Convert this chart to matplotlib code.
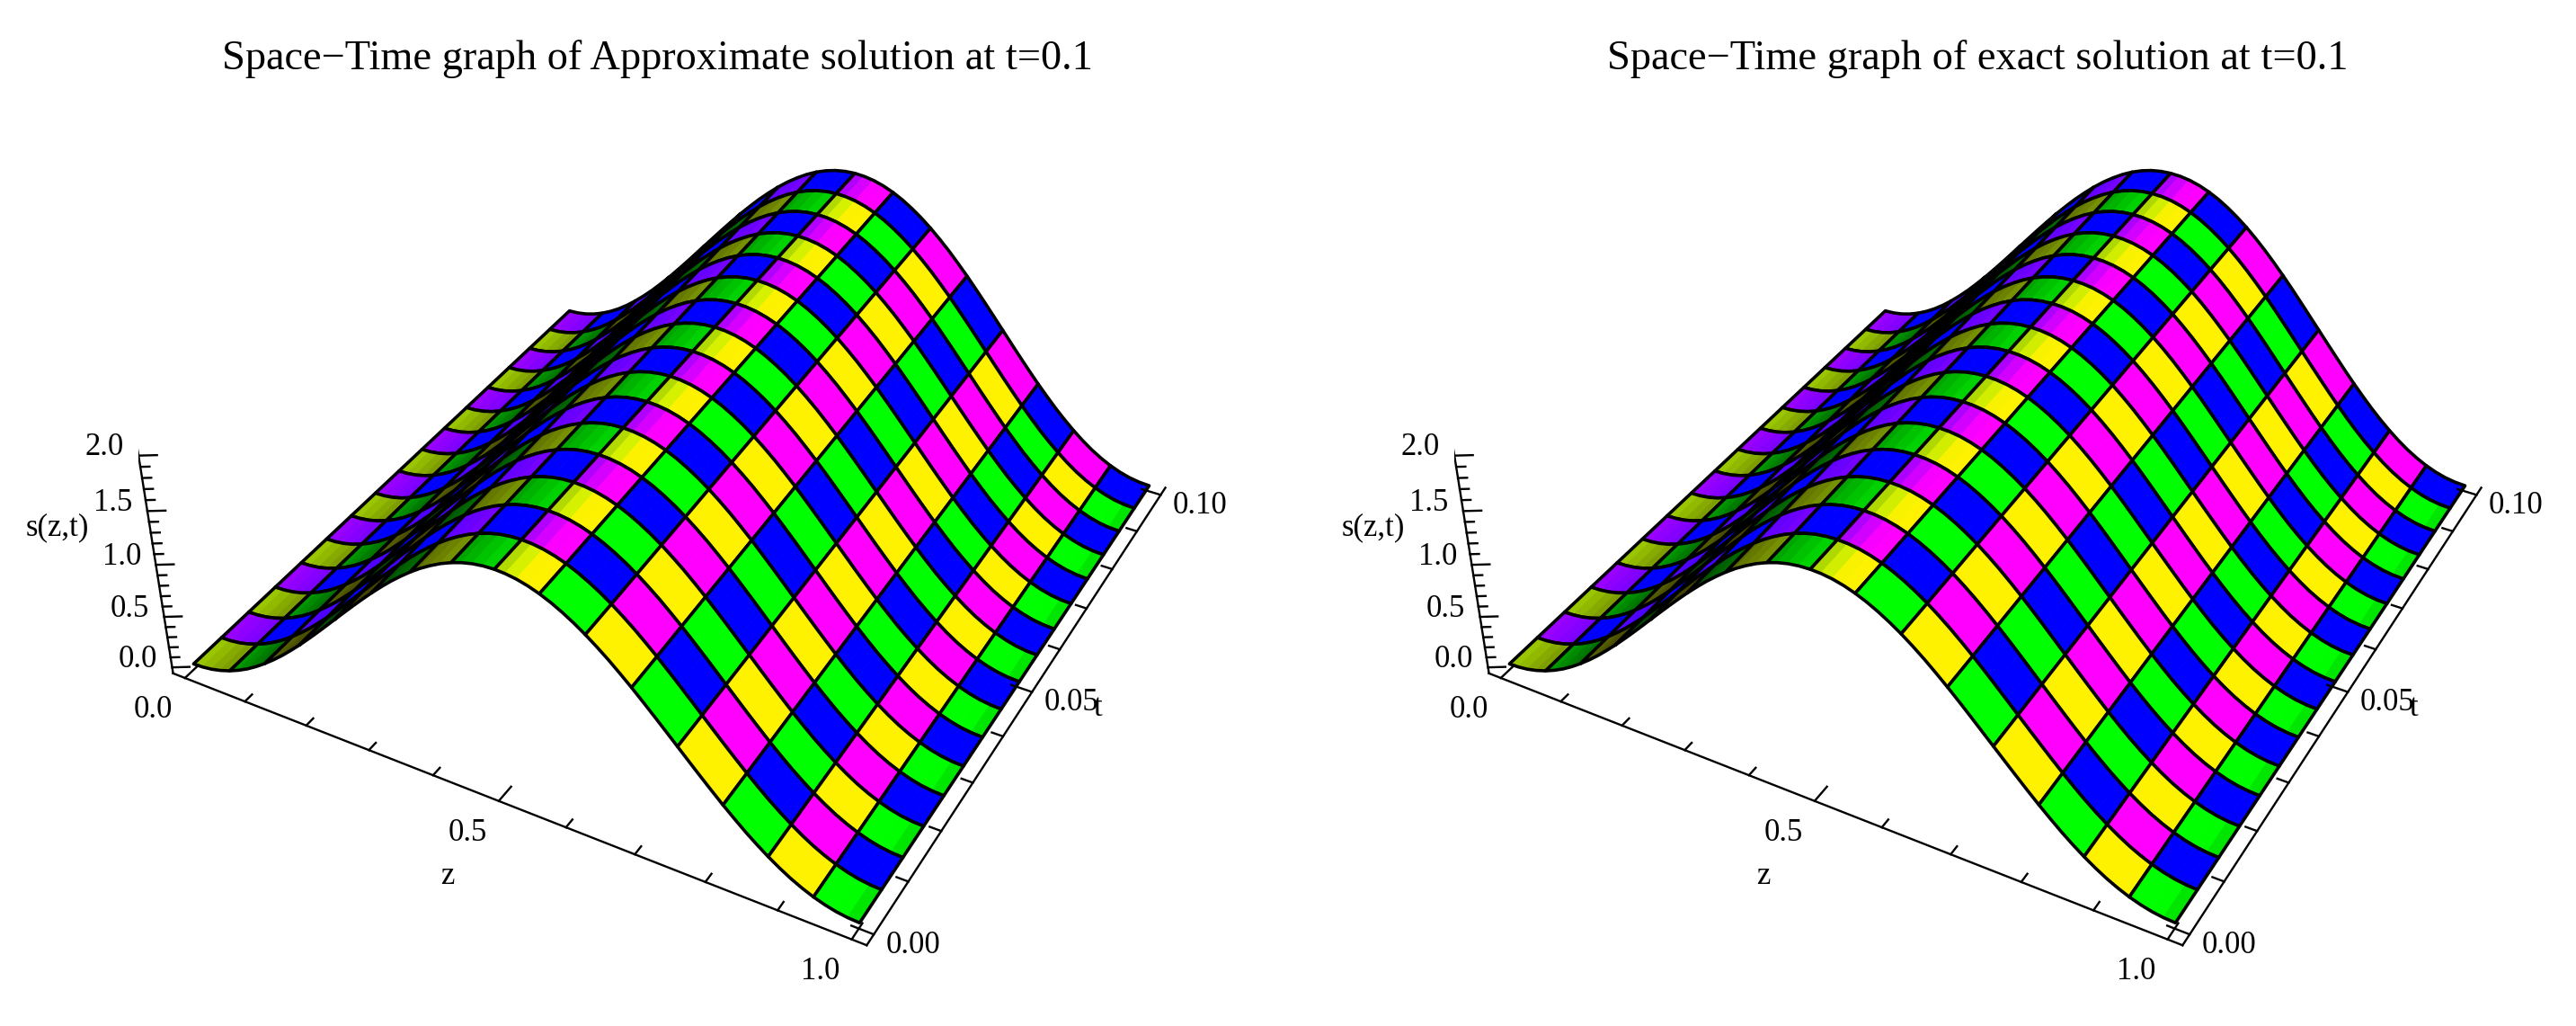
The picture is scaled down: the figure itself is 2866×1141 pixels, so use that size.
"""Two space-time surfaces, s(z,t), side by side (approximate vs exact)."""
import numpy as np
import matplotlib
matplotlib.use("Agg")
import matplotlib.pyplot as plt
from mpl_toolkits.mplot3d import proj3d
from mpl_toolkits.mplot3d.art3d import Poly3DCollection

plt.rcParams["font.family"] = ["Liberation Serif", "DejaVu Serif"]

# mesh lines along z and t
z_nodes = [0.0, 0.0625, 0.125, 0.1875, 0.25, 0.3125, 0.375, 0.4375, 0.5,
           0.5625, 0.625, 0.6875, 0.75, 0.8125, 0.875, 0.9375, 1.0]
t_nodes = [0.0, 0.00625, 0.0125, 0.01875, 0.025, 0.03125, 0.0375, 0.04375, 0.05,
           0.05625, 0.0625, 0.06875, 0.075, 0.08125, 0.0875, 0.09375, 0.1]

# height along z at t=0 (four steps per mesh cell)
approx_profile = [0.0, 0.005, 0.019, 0.043, 0.076, 0.118, 0.168, 0.227,
                  0.293, 0.366, 0.444, 0.529, 0.617, 0.710, 0.805, 0.902,
                  1.0, 1.098, 1.195, 1.290, 1.383, 1.471, 1.556, 1.634,
                  1.707, 1.773, 1.831, 1.882, 1.924, 1.957, 1.981, 1.995,
                  2.0, 1.995, 1.981, 1.957, 1.924, 1.882, 1.831, 1.773,
                  1.707, 1.634, 1.556, 1.471, 1.383, 1.290, 1.195, 1.098,
                  1.0, 0.902, 0.805, 0.710, 0.617, 0.529, 0.444, 0.366,
                  0.293, 0.227, 0.168, 0.118, 0.076, 0.043, 0.019, 0.005, 0.0]
exact_profile = [0.0, 0.005, 0.019, 0.043, 0.076, 0.118, 0.168, 0.227,
                 0.293, 0.366, 0.444, 0.529, 0.617, 0.710, 0.805, 0.902,
                 1.0, 1.098, 1.195, 1.290, 1.383, 1.471, 1.556, 1.634,
                 1.707, 1.773, 1.831, 1.882, 1.924, 1.957, 1.981, 1.995,
                 2.0, 1.996, 1.983, 1.960, 1.928, 1.887, 1.837, 1.779,
                 1.714, 1.641, 1.562, 1.477, 1.388, 1.295, 1.199, 1.101,
                 1.003, 0.905, 0.808, 0.712, 0.619, 0.530, 0.445, 0.366,
                 0.293, 0.227, 0.168, 0.118, 0.076, 0.043, 0.019, 0.005, 0.0]

approx_gain = [1.0, 1.006, 1.013, 1.020, 1.027, 1.034, 1.041, 1.048, 1.055,
               1.062, 1.069, 1.076, 1.083, 1.090, 1.097, 1.104, 1.110]
exact_gain = [1.0, 1.006, 1.013, 1.020, 1.027, 1.034, 1.041, 1.048, 1.055,
              1.062, 1.069, 1.076, 1.083, 1.090, 1.097, 1.104, 1.110]

titles = ["Space\u2212Time graph of Approximate solution at t=0.1",
          "Space\u2212Time graph of exact solution at t=0.1"]

z_ticks = [0.0, 0.1, 0.2, 0.3, 0.4, 0.5, 0.6, 0.7, 0.8, 0.9, 1.0]
t_ticks = [0.0, 0.01, 0.02, 0.03, 0.04, 0.05, 0.06, 0.07, 0.08, 0.09, 0.1]
s_ticks = [0.0, 0.1, 0.2, 0.3, 0.4, 0.5, 0.6, 0.7, 0.8, 0.9, 1.0,
           1.1, 1.2, 1.3, 1.4, 1.5, 1.6, 1.7, 1.8, 1.9, 2.0]
z_major = {0.0: "0.0", 0.5: "0.5", 1.0: "1.0"}
t_major = {0.0: "0.00", 0.05: "0.05", 0.1: "0.10"}
s_major = {0.0: "0.0", 0.5: "0.5", 1.0: "1.0", 1.5: "1.5", 2.0: "2.0"}

Z_LIM = (-0.02, 1.02)
T_LIM = (-0.002, 0.102)
S_LIM = (-0.06, 2.28)

WIDTH, HEIGHT = 2866, 1141
AXES_PX = 1200
PANEL_LEFT = [154, 1618]
PANEL_BOTTOM = 15
TITLE_X = [731, 2200]
SUB = 4  # profile steps per mesh cell


def light(profile):
    """Red and green light reaching each profile step; blue stays full."""
    slope = np.diff(profile)
    slope = slope / np.abs(slope).max()
    red = np.where(slope > 0, 0.62 - 0.38 * slope, np.minimum(1, 0.62 - 1.5 * slope))
    green = np.where(slope > 0, 0.85 - 0.60 * slope, np.minimum(1, 0.85 - 1.0 * slope))
    return red, green


def cell_base(i, j):
    if j % 2 == 0:
        return (1, 0.95, 0) if i % 2 == 0 else (0, 1, 0)
    return (1, 0, 1) if i % 2 == 0 else (0, 0, 1)


def draw_surface(ax, profile, gain):
    S = np.outer(profile, gain)
    red, green = light(np.asarray(profile))
    n_z, n_t = len(z_nodes) - 1, len(t_nodes) - 1
    for j in range(n_t):
        for i in range(n_z):
            zs = np.linspace(z_nodes[i], z_nodes[i + 1], SUB + 1)
            near = S[i * SUB:(i + 1) * SUB + 1, j]
            far = S[i * SUB:(i + 1) * SUB + 1, j + 1]
            t0, t1 = t_nodes[j], t_nodes[j + 1]
            quads, colors = [], []
            base = cell_base(i, j)
            for k in range(SUB):
                quads.append([(zs[k], t0, near[k]), (zs[k + 1], t0, near[k + 1]),
                              (zs[k + 1], t1, far[k + 1]), (zs[k], t1, far[k])])
                step = i * SUB + k
                colors.append((base[0] * red[step], base[1] * green[step], base[2], 1))
            # far rows first, low z first: back to front for this viewpoint
            order = 1 + ((n_t - 1 - j) * n_z + i) * 0.001
            faces = Poly3DCollection(quads, facecolors=colors, edgecolors=colors,
                                     linewidths=0.6, zorder=order)
            ax.add_collection3d(faces, autolim=False)
            outline = [(z, t0, s) for z, s in zip(zs, near)] + \
                      [(z, t1, s) for z, s in zip(zs[::-1], far[::-1])]
            edge = Poly3DCollection([outline], facecolors=[(0, 0, 0, 0)], edgecolors="black",
                                    linewidths=2.6, zorder=order + 0.0005)
            ax.add_collection3d(edge, autolim=False)


def tick_label(ax, x, y, s, text, dx, dy):
    px, py, _ = proj3d.proj_transform(x, y, s, ax.get_proj())
    ax.annotate(text, xy=(px, py), xytext=(dx, dy), textcoords="offset pixels",
                ha="center", va="center", fontsize=25, annotation_clip=False)


def draw_axes(ax):
    line = dict(color="black", lw=1.7, zorder=3)
    ax.plot(Z_LIM, [T_LIM[0]] * 2, [S_LIM[0]] * 2, **line)
    ax.plot([Z_LIM[1]] * 2, T_LIM, [S_LIM[0]] * 2, **line)
    ax.plot([Z_LIM[0]] * 2, [T_LIM[0]] * 2, S_LIM, **line)

    for z in z_ticks:
        size = 0.003 if z in z_major else 0.0016
        ax.plot([z, z], [T_LIM[0], T_LIM[0] + size], [S_LIM[0]] * 2, **line)
    for t in t_ticks:
        size = 0.03 if t in t_major else 0.016
        ax.plot([Z_LIM[1], Z_LIM[1] - size], [t, t], [S_LIM[0]] * 2, **line)
    for s in s_ticks:
        size = 0.02 if s in s_major else 0.01
        ax.plot([Z_LIM[0], Z_LIM[0] + size], [T_LIM[0], T_LIM[0] + size * 0.06], [s, s], **line)

    for z, text in z_major.items():
        tick_label(ax, z, T_LIM[0], S_LIM[0], text, -35, -36)
    for t, text in t_major.items():
        tick_label(ax, Z_LIM[1], t, S_LIM[0], text, 44, -12)
    for s, text in s_major.items():
        tick_label(ax, Z_LIM[0], T_LIM[0], s, text, -38, 9)
    tick_label(ax, 0.5, T_LIM[0], S_LIM[0], "z", -57, -84)
    tick_label(ax, Z_LIM[1], 0.05, S_LIM[0], "t", 73, -18)
    tick_label(ax, Z_LIM[0], T_LIM[0], 1.0, "s(z,t)", -110, 41)


fig = plt.figure(figsize=(WIDTH / 100, HEIGHT / 100), dpi=100)
panels = [(approx_profile, approx_gain), (exact_profile, exact_gain)]
for k, (profile, gain) in enumerate(panels):
    ax = fig.add_axes([PANEL_LEFT[k] / WIDTH, PANEL_BOTTOM / HEIGHT,
                       AXES_PX / WIDTH, AXES_PX / HEIGHT], projection="3d")
    # default Mathematica viewpoint {1.3, -2.4, 2}
    ax.set_proj_type("persp", focal_length=0.4383)
    ax.view_init(elev=36.27, azim=-61.56)
    ax.set_box_aspect((1, 1, 0.4))
    ax.set_xlim(*Z_LIM)
    ax.set_ylim(*T_LIM)
    ax.set_zlim(*S_LIM)
    ax.set_axis_off()
    ax.patch.set_alpha(0)
    ax.computed_zorder = False

    draw_surface(ax, profile, gain)
    draw_axes(ax)
    fig.text(TITLE_X[k] / WIDTH, 1 - 66 / HEIGHT, titles[k], ha="center", va="center",
             fontsize=33.4)

fig.savefig("out.png", dpi=100)
